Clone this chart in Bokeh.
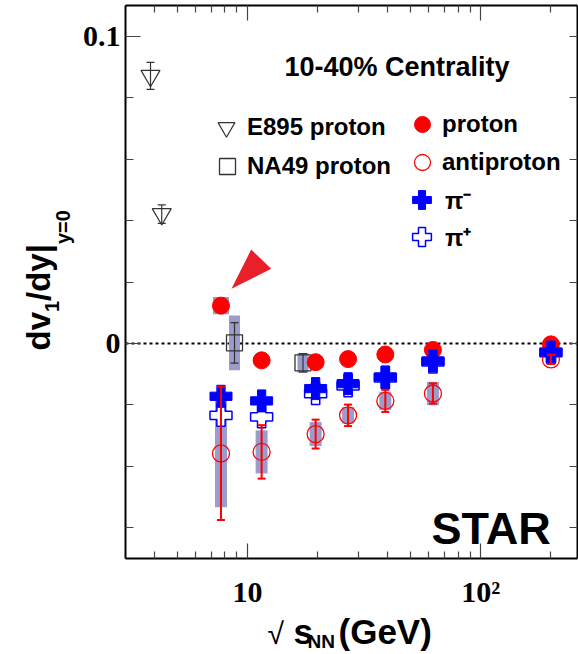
import math
from bokeh.plotting import figure
from bokeh.layouts import row, column
from bokeh.core.properties import value
from bokeh.models import (ColumnDataSource, FixedTicker, CustomJSTickFormatter, LinearAxis, LogAxis,
                          Span, Label, Legend, LegendItem, Whisker, TeeHead, PolyAnnotation, Range1d)
from bokeh.embed import file_html
from bokeh.resources import INLINE

# ---------------- data ----------------
energies = [7.7, 11.5, 19.6, 27.0, 39.0, 62.4, 200.0]
proton_v = [0.0123, -0.0055, -0.0061, -0.0051, -0.0036, -0.0021, -0.0003]
proton_stat = [0.0008, 0.0004, 0.0003, 0.0002, 0.0002, 0.0002, 0.0001]
proton_sys = [0.0028, 0.0010, 0.0010, 0.0010, 0.0010, 0.0010, 0.0005]
antiproton_v = [-0.0358, -0.0353, -0.0295, -0.0234, -0.0187, -0.0163, -0.0052]
antiproton_stat = [0.0217, 0.0087, 0.0047, 0.0035, 0.0036, 0.0033, 0.0015]
antiproton_sys = [0.0175, 0.0070, 0.0039, 0.0027, 0.0030, 0.0038, 0.0010]
pim_v = [-0.0172, -0.0187, -0.0147, -0.0131, -0.0109, -0.0057, -0.0028]
pip_v = [-0.0234, -0.0239, -0.0163, -0.0138, -0.0112, -0.0060, -0.0030]

e895_energies = [3.84, 4.29]
e895_v = [0.0871, 0.0421]
e895_err = [0.0044, 0.0030]

na49_energies = [8.8, 17.3]
na49_v = [0.0002, -0.0063]
na49_stat = [0.0066, 0.0030]
na49_sys = [0.0089, 0.0032]

x_major = [10, 100]
x_minor = [4, 5, 6, 7, 8, 9, 20, 30, 40, 50, 60, 70, 80, 90, 200]
y_major = [0.0, 0.1]
y_minor = [-0.06, -0.04, -0.02, 0.02, 0.04, 0.06, 0.08]

# ---------------- styles ----------------
RED = "#ff0000"
BLUE = "#0000ff"
SYS = "#9b9bcc"
GRAY = "#333333"
SANS = "Liberation Sans"
SERIF = "Liberation Serif"
MID = 0.35  # text anchor sits this fraction of the font size above the baseline

YLAB_W = 78
XLAB_H = 44
MAIN_W = 578 - YLAB_W
MAIN_H = 654 - XLAB_H
BORDER_L = 47
BORDER_R = 1

p = figure(width=MAIN_W, height=MAIN_H, x_axis_type="log", x_range=(3.0, 260.0),
           y_range=(-0.07, 0.11), output_backend="svg", toolbar_location=None,
           min_border_left=BORDER_L, min_border_right=BORDER_R, min_border_top=5,
           min_border_bottom=51)
p.grid.visible = False
p.outline_line_color = None
p.background_fill_color = "white"
p.border_fill_color = "white"

xticker = FixedTicker(ticks=x_major, minor_ticks=x_minor)
yticker = FixedTicker(ticks=y_major, minor_ticks=y_minor)


def style_axis(ax, show_labels):
    ax.axis_line_color = "black"
    ax.axis_line_width = 2
    ax.major_tick_in = 15
    ax.major_tick_out = 0
    ax.minor_tick_in = 8
    ax.minor_tick_out = 0
    ax.major_tick_line_color = "#444444"
    ax.minor_tick_line_color = "#444444"
    ax.major_tick_line_width = 1.2
    ax.minor_tick_line_width = 1.2
    if not show_labels:
        ax.major_label_text_font_size = "2px"
        ax.major_label_text_color = None
        ax.major_label_standoff = 0
    else:
        ax.major_label_text_font = SERIF
        ax.major_label_text_font_style = "bold"
        ax.major_label_text_font_size = "30px"
        ax.major_label_text_color = "black"


xa = p.xaxis[0]
xa.ticker = xticker
xa.formatter = CustomJSTickFormatter(code="return tick >= 100 ? '10\u00b2' : tick.toFixed(0);")
style_axis(xa, True)
xa.major_label_standoff = 16
xa.minor_tick_in = 7

ya = p.yaxis[0]
ya.ticker = yticker
ya.formatter = CustomJSTickFormatter(code="return Math.abs(tick) < 1e-9 ? '0' : tick.toFixed(1);")
style_axis(ya, True)
ya.major_label_standoff = 5

top_ax = LogAxis(ticker=xticker)
style_axis(top_ax, False)
top_ax.minor_tick_in = 7
p.add_layout(top_ax, "above")
right_ax = LinearAxis(ticker=yticker)
style_axis(right_ax, False)
right_ax.major_tick_in = 8
p.add_layout(right_ax, "right")

p.add_layout(Span(location=0, dimension="width", line_color="black", line_width=2,
                  line_dash="3 3", level="underlay"))

# ---------------- systematic boxes ----------------
na49_sys_src = ColumnDataSource(dict(x=na49_energies, y=na49_v, h=[2 * s for s in na49_sys]))
pbar_sys_src = ColumnDataSource(dict(x=energies, y=antiproton_v, h=[2 * s for s in antiproton_sys]))
prot_sys_src = ColumnDataSource(dict(x=energies, y=proton_v, h=[2 * s for s in proton_sys]))
for src, w in ((na49_sys_src, 11), (pbar_sys_src, 12), (prot_sys_src, 16)):
    p.rect(x="x", y="y", width=w, width_units="screen", height="h", source=src,
           fill_color=SYS, line_color=None)

# pi+ (open cross, white inside)
r_pip = p.scatter(energies, pip_v, marker="plus", size=22, fill_color="white",
                  line_color=BLUE, line_width=1.5)

# statistical error bars
pbar_src = ColumnDataSource(dict(x=energies,
                                 up=[v + e for v, e in zip(antiproton_v, antiproton_stat)],
                                 lo=[v - e for v, e in zip(antiproton_v, antiproton_stat)]))
e895_src = ColumnDataSource(dict(x=e895_energies,
                                 up=[v + e for v, e in zip(e895_v, e895_err)],
                                 lo=[v - e for v, e in zip(e895_v, e895_err)]))
na49_src = ColumnDataSource(dict(x=na49_energies,
                                 up=[v + e for v, e in zip(na49_v, na49_stat)],
                                 lo=[v - e for v, e in zip(na49_v, na49_stat)]))
for src, col, lw in ((pbar_src, RED, 2), (e895_src, GRAY, 1.2), (na49_src, GRAY, 1.2)):
    p.add_layout(Whisker(base="x", upper="up", lower="lo", source=src, level="glyph",
                         line_color=col, line_width=lw,
                         upper_head=TeeHead(size=8, line_color=col, line_width=lw),
                         lower_head=TeeHead(size=8, line_color=col, line_width=lw)))

r_pbar = p.scatter(energies, antiproton_v, marker="circle", size=17, fill_color=None,
                   line_color=RED, line_width=1.3)
r_e895 = p.scatter(e895_energies, e895_v, marker="inverted_triangle", size=19, fill_color=None,
                   line_color=GRAY, line_width=1.2)
r_na49 = p.scatter(na49_energies, na49_v, marker="square", size=16, fill_color=None,
                   line_color=GRAY, line_width=1.3)
r_prot = p.scatter(energies, proton_v, marker="circle", size=17, fill_color=RED, line_color=RED)
r_pim = p.scatter(energies, pim_v, marker="plus", size=22, fill_color=BLUE, line_color=BLUE)

# ---------------- legends (one per entry: label, renderer, box corner, box size) ----
legend_entries = [
    ("E895 proton", r_e895, (80, 410), 42),
    ("NA49 proton", r_na49, (82, 372), 40),
    ("proton", r_prot, (277, 414), 40),
    ("antiproton", r_pbar, (277, 376), 40),
    ("π⁻", r_pim, (273, 335), 47),
    ("π⁺", r_pip, (273, 298), 47),
]
for lab, rend, loc, g in legend_entries:
    p.add_layout(Legend(items=[LegendItem(label=lab, renderers=[rend])], location=loc,
                        glyph_width=g, glyph_height=g, spacing=0, padding=0, margin=0,
                        label_standoff=0, border_line_color=None, background_fill_alpha=0,
                        label_text_font=SANS, label_text_font_style="bold",
                        label_text_font_size="24px", label_text_color="black"))

# ---------------- texts inside the frame ----------------
def add_label(text, x, y, size, align="left"):
    p.add_layout(Label(x=x, y=y, x_units="screen", y_units="screen", text=text,
                       text_font=SANS, text_font_size=f"{size}px", text_font_style="bold",
                       text_align=align, text_baseline="alphabetic", text_color="black"))

add_label("10-40% Centrality", 271.5, 491.5, 27, align="center")
add_label("STAR", 306, 30, 45)

# red arrow head pointing at the 7.7 GeV proton point
p.add_layout(PolyAnnotation(xs=[106, 125.7, 145.7], ys=[269.7, 309, 289.7],
                            xs_units="screen", ys_units="screen",
                            fill_color="#e8202a", fill_alpha=1.0, line_color=None))

# ---------------- axis titles (separate text panels) ----------------
def text_panel(w, h, x0=0, x1=None, **borders):
    f = figure(width=w, height=h, x_range=Range1d(x0, w if x1 is None else x1),
               y_range=Range1d(0, h), output_backend="svg", toolbar_location=None,
               x_axis_location=None, y_axis_location=None, min_border=0, **borders)
    f.grid.visible = False
    f.outline_line_color = None
    f.background_fill_color = "white"
    f.border_fill_color = "white"
    return f


def put(f, text, x, y, size, bold=True, angle=0.0):
    f.text(x=[x], y=[y], text=[text], angle=angle, text_font=value(SANS),
           text_font_size=f"{size}px", text_font_style="bold" if bold else "normal",
           text_align="left", text_baseline="alphabetic", text_color="black")


# y title, rotated; x is the baseline position (corrected for the anchor offset)
ylab = text_panel(YLAB_W, 654)
A = math.pi / 2
put(ylab, "dv", 50 - MID * 33, 304, 33, angle=A)
put(ylab, "1", 58 - MID * 20, 342.5, 20, angle=A)
put(ylab, "/dy|", 50 - MID * 33, 353.5, 33, angle=A)
put(ylab, "y=0", 69 - MID * 20, 410.5, 20, angle=A)

# x title; its frame is aligned with the main frame, so the range spans the frame pixels
xlab = text_panel(MAIN_W, XLAB_H, x0=BORDER_L, x1=MAIN_W - BORDER_R,
                  min_border_left=BORDER_L, min_border_right=BORDER_R)
put(xlab, "√", 189, 11 + MID * 30, 30, bold=False)
put(xlab, "s", 215, 11 + MID * 35, 35)
put(xlab, "NN", 229, 6 + MID * 19, 19)
put(xlab, "(GeV)", 260, 11 + MID * 35, 35)

layout = row(ylab, column(p, xlab, spacing=0), spacing=0)

open("out.html", "w").write(file_html(layout, INLINE))
